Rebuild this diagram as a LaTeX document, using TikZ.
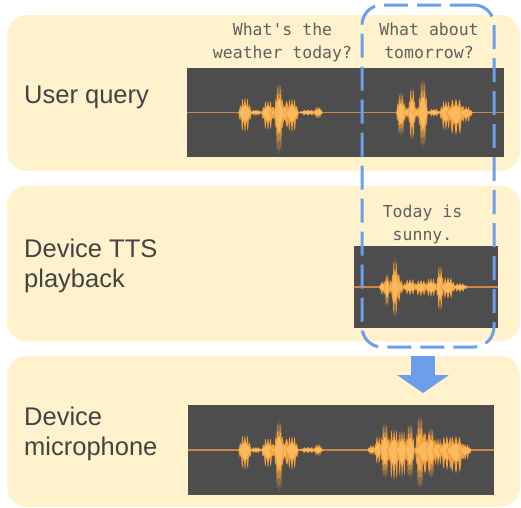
\documentclass[tikz,border=0pt]{standalone}
\usepackage{fontspec}
\setmainfont{Liberation Sans}
\setmonofont{DejaVu Sans Mono}
\usepackage{tikz}
\usetikzlibrary{arrows.meta,positioning}
\definecolor{panelyellow}{HTML}{FFF2CC}
\definecolor{labelgray}{HTML}{434343}
\definecolor{capgray}{HTML}{606060}
\definecolor{wavebg}{HTML}{4D4D4D}
\definecolor{waveout}{RGB}{244,160,60}
\definecolor{wavein}{RGB}{252,186,96}
\definecolor{waveline}{RGB}{206,134,70}
\definecolor{selblue}{HTML}{6D9EEB}
\tikzset{
	panel/.style={
		rectangle, rounded corners=20pt, fill=panelyellow,
		minimum width=513pt, inner sep=0pt
	},
	%
	wavebox/.style={
		rectangle, fill=wavebg, inner sep=0pt
	},
	%
	rowlabel/.style={
		anchor=base west, align=left, inner sep=0pt, text=labelgray,
		font=\fontsize{25.5}{30}\selectfont
	},
	%
	speech/.style={
		anchor=base, align=center, inner sep=0pt, text=capgray,
		font=\fontsize{16.5}{23}\selectfont\ttfamily
	},
	%
	selbox/.style={
		rectangle, rounded corners=20pt, draw=selblue, line width=3pt,
		dash pattern=on 24pt off 9pt, minimum width=132pt, minimum height=342pt
	},
	%
	bigarrow/.style={
		draw=selblue, line width=24pt, -{Triangle[width=51pt,length=18pt,fill=selblue]}
	}
}
% one burst of a waveform: x, centre y, half width, up, down
\newcommand{\burst}[5]{%
	\fill[waveout] plot[domain=-1:1,samples=31] ({#1+#3*\x},{#2-#4*exp(-3*\x*\x*\x*\x)*(0.7+0.3*cos(997*\x))})
		-- plot[domain=1:-1,samples=31] ({#1+#3*\x},{#2+#5*exp(-3*\x*\x*\x*\x)*(0.7+0.3*cos(911*\x))}) -- cycle;
	\fill[wavein] plot[domain=-0.8:0.8,samples=15] ({#1+#3*\x},{#2-0.45*#4*exp(-3*\x*\x)})
		-- plot[domain=0.8:-0.8,samples=15] ({#1+#3*\x},{#2+0.45*#5*exp(-3*\x*\x)}) -- cycle;
}
\newcommand{\querywave}[1]{%
	\foreach \cx/\hw/\up/\dn in {245/7/15/20, 256/7/3/3, 268/7/12/18, 282/13/12/16, 279/5/29/41,
		292/7/14/20, 308/10/3/3, 318/5/6/6}
		{\burst{\cx}{#1}{\hw}{\up}{\dn}}
}
\newcommand{\tomorrowwave}[1]{%
	\foreach \cx/\hw/\up/\dn in {401/5/20/23, 407/4/6/6, 412/4/25/28, 417/4/6/6, 423/5/33/35,
		434/7/4/4, 446/7/12/18, 456/10/14/23, 466/7/6/10}
		{\burst{\cx}{#1}{\hw}{\up}{\dn}}
}
\newcommand{\sunnywave}[1]{%
	\foreach \cx/\hw/\up/\dn in {383/4/6/8, 387/3/13/20, 396/8/14/16, 395/4/28/30, 410/8/8/8,
		421/8/7/9, 431/7/9/10, 440/4/21/24, 448/8/10/12, 460/8/4/5}
		{\burst{\cx}{#1}{\hw}{\up}{\dn}}
}
\newcommand{\micwave}[1]{%
	\foreach \cx/\hw/\up/\dn in {372/5/5/5, 378/4/14/14, 385/5/27/28, 394/7/21/31, 402/6/20/28,
		410/5/26/28, 420/5/34/39, 425/11/18/24, 431/5/22/28, 438/6/12/16, 447/9/14/20,
		456/10/14/24, 465/7/6/10}
		{\burst{\cx}{#1}{\hw}{\up}{\dn}}
}
\begin{document}
\begin{tikzpicture}[x=1pt,y=-1pt]
\useasboundingbox (0,0) rectangle (521,507);
%panels
\node (user) [panel, minimum height=156pt] at (263.5,93) {};
\node (tts) [panel, minimum height=156pt, below=14pt of user] {};
\node (mic) [panel, minimum height=151pt, below=14pt of tts] {};

\node [rowlabel] (userlbl) at (24,103) {User query};
\node [rowlabel] (ttslbl) at (24,287) {Device TTS\\playback};
\node [rowlabel] (miclbl) at (24,455) {Device\\microphone};

%waveforms
\node (userwave) [wavebox, minimum width=317pt, minimum height=89pt] at (345.5,112.5) {};
\node (ttswave) [wavebox, minimum width=144pt, minimum height=82pt] at (426,287) {};
\node (micwave) [wavebox, minimum width=306pt, minimum height=90pt] at (341,450) {};
\foreach \w in {userwave,ttswave,micwave}
	\draw[waveline, line width=1.5pt] (\w.west) -- (\w.east);
\querywave{112.5}
\tomorrowwave{112.5}
\sunnywave{287}
\querywave{450}
\micwave{450}

\node [speech] (askone) at (282.5,58) {What's the\\weather today?};
\node [speech] (asktwo) at (429,58) {What about\\tomorrow?};
\node [speech] (reply) at (422.5,240) {Today is\\sunny.};

%selection and arrow
\node (sel) [selbox] at (428,176) {};
\coordinate (tip) at (423,393);
\draw[bigarrow] (tip |- mic.north) -- (tip);
\end{tikzpicture}
\end{document}
